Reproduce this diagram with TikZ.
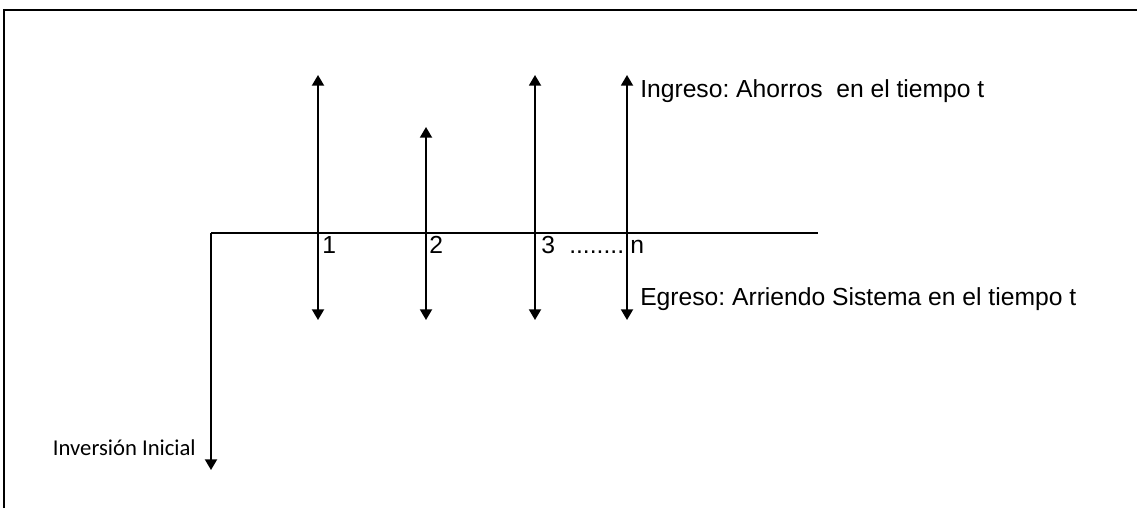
\documentclass[tikz,border=0pt]{standalone}
\usepackage{fontspec}
\setmainfont{Liberation Sans}
\newfontfamily\calibrifont{Carlito}
\usetikzlibrary{positioning,arrows.meta}
\frenchspacing

\begin{document}
\begin{tikzpicture}[
  x=0.75pt, y=-0.75pt,
  flow/.style={line width=1.4pt, {Triangle[width=9pt,length=8pt]}-{Triangle[width=9pt,length=8pt]}},
  axis/.style={line width=1.4pt},
  outflow/.style={line width=1.4pt, -{Triangle[width=9pt,length=8pt]}},
  lbl/.style={anchor=base west, inner sep=0pt, font=\fontsize{18.5}{20}\selectfont},
  tick/.style={anchor=base west, inner sep=0pt, font=\fontsize{18.5}{20}\selectfont}
]
\useasboundingbox (0,0) rectangle (1137,508);
% frame
\draw[line width=1.5pt] (4,508) -- (4,10) -- (1137,10);

% time line
\coordinate (t0) at (211,233);
\coordinate (tend) at (818,233);
\draw[axis] (t0) -- (tend);

% initial investment
\coordinate (inv) at (211,470);
\draw[outflow] (t0) -- (inv);
\node[anchor=base east, inner sep=0pt, font=\calibrifont\fontsize{17}{18}\selectfont] (invlbl) at (196,455) {Inversión Inicial};

% cash flows
\foreach \name/\px/\top in {p1/318/75, p2/426/127, p3/535/75, pn/627/75}{
  \coordinate (\name up) at (\px,\top);
  \coordinate (\name down) at (\px,320);
  \draw[flow] (\name down) -- (\name up);
}

% period labels
\node[tick] (n1) at (322,253) {1};
\node[tick] (n2) at (429,253) {2};
\node[tick] (n3) at (541,253) {3};
\node[tick] (dots) at (569,253) {........};
\node[tick] (nn) at (630,253) {n};

\node[lbl] (ingreso) at (640,97) {Ingreso: Ahorros~ en el tiempo t};
\node[lbl] (egreso) at (640,305) {Egreso: Arriendo Sistema en el tiempo t};
\end{tikzpicture}
\end{document}
